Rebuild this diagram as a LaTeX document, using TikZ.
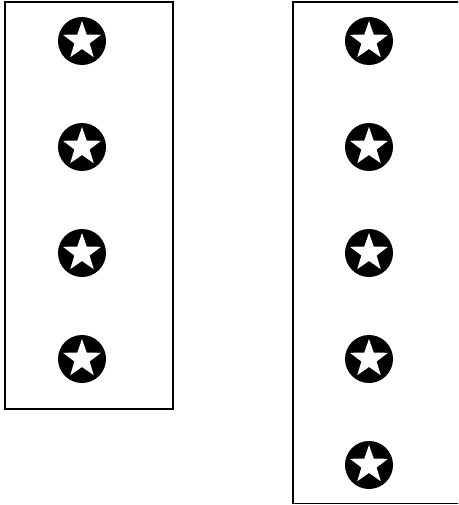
\documentclass[tikz,border=0pt]{standalone}
\usepackage{tikz}
\usetikzlibrary{shapes.geometric}

\begin{document}
\begin{tikzpicture}[
  x=1pt, y=-1pt,
  panel/.style={draw, line width=1.2pt},
  disc/.style={circle, fill=black, inner sep=0pt, minimum size=48pt},
  starmark/.style={star, star points=5, star point ratio=2.5, fill=white, inner sep=0pt, minimum size=40pt}]
\clip (0,0) rectangle (458,505);
\draw[panel] (5,2) rectangle (173,409);
\draw[panel] (293,2) rectangle (470,503.5);
\foreach \i/\y in {1/41,2/147,3/253,4/359}{
  \node[disc] (l\i) at (82,\y) {};
  \node[starmark] (ls\i) at (l\i) {};
}
\foreach \i/\y in {1/41,2/147,3/253,4/359,5/465}{
  \node[disc] (r\i) at (369,\y) {};
  \node[starmark] (rs\i) at (r\i) {};
}
\end{tikzpicture}
\end{document}
